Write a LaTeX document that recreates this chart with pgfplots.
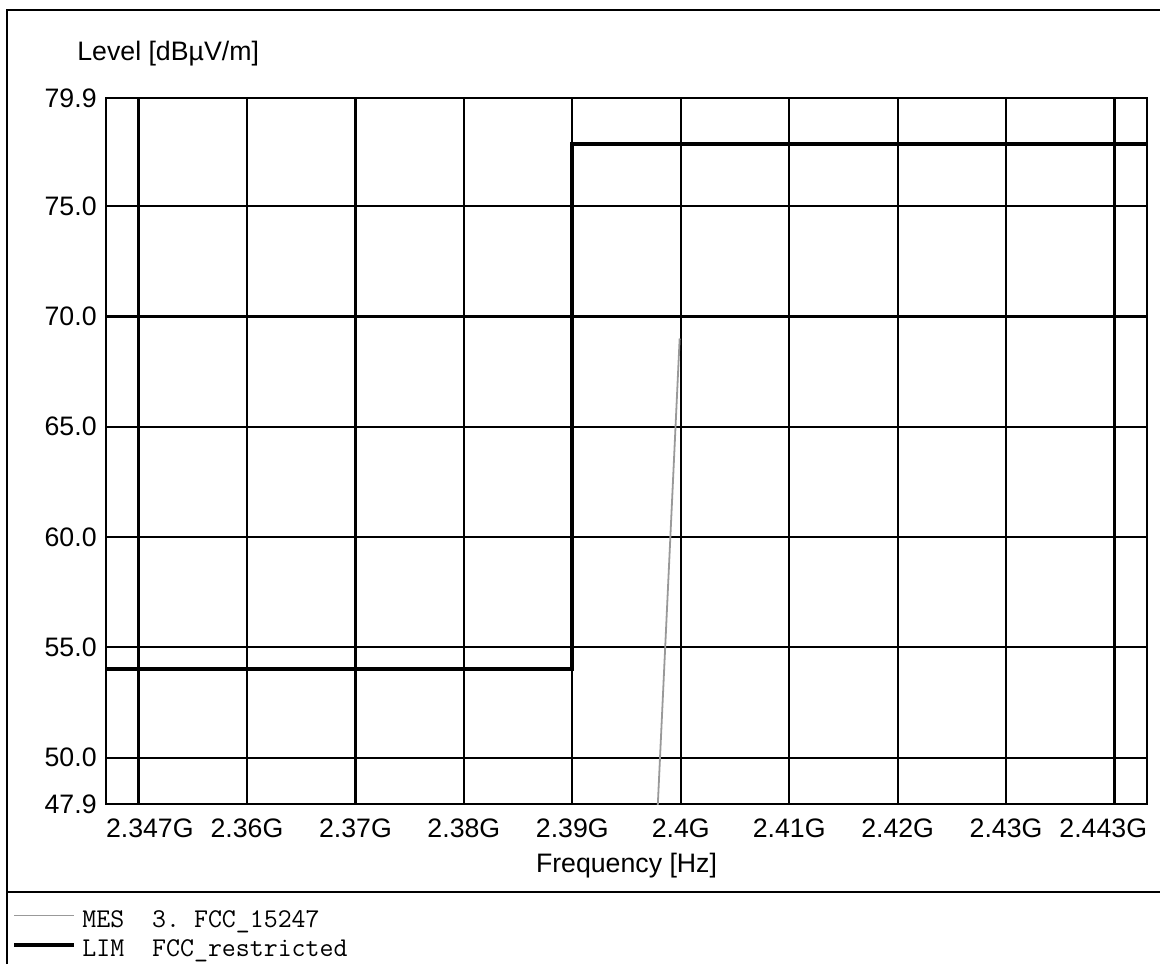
\documentclass[border=0pt]{standalone}
\usepackage{fontspec}
\setmainfont{Liberation Sans}
\usepackage{pgfplots}
\pgfplotsset{compat=1.18}
\begin{document}
\fontsize{13.4}{16}\selectfont
\begin{tikzpicture}
\begin{scope}[x=0.5bp,y=-0.5bp]
\useasboundingbox (0,0) rectangle (1160,964);
\draw[line width=0.8bp] (7,964) -- (7,10) -- (1160,10);
\draw[line width=0.8bp] (7,892) -- (1160,892);
\end{scope}
\begin{axis}[
  at={(53bp,-49bp)}, anchor=north west,
  scale only axis, width=520.5bp, height=353bp,
  xmin=2.347, xmax=2.443, ymin=47.9, ymax=79.9,
  xtick={2.347,2.35,2.36,2.37,2.38,2.39,2.40,2.41,2.42,2.43,2.44,2.443},
  xticklabels={\rlap{2.347G},,2.36G,2.37G,2.38G,2.39G,2.4G,2.41G,2.42G,2.43G,,\llap{2.443G}},
  ytick={47.9,50,55,60,65,70,75,79.9},
  yticklabels={47.9,50.0,55.0,60.0,65.0,70.0,75.0,79.9},
  major tick length=0pt,
  tick label style={font=\fontsize{13.4}{16}\selectfont, inner sep=0pt},
  xticklabel style={anchor=base, yshift=-16.5bp},
  yticklabel style={anchor=east, xshift=-4.5bp},
  grid=major,
  major grid style={black, line width=1.1bp},
  axis line style={black, line width=1bp},
  xlabel={Frequency [Hz]},
  xlabel style={at={(axis description cs:0.5,-0.0963)}, anchor=base, inner sep=0pt, font=\fontsize{13.4}{16}\selectfont},
  ylabel={Level [dBµV/m]},
  ylabel style={rotate=-90, at={(axis description cs:-0.0279,1.0538)}, anchor=base west, inner sep=0pt, font=\fontsize{13.4}{16}\selectfont},
  legend style={at={(axis description cs:-0.0903,-0.1487)}, anchor=north west, draw=none, fill=none, inner sep=0pt, row sep=0pt, column sep=3bp,
    font=\ttfamily\fontsize{13.6}{14.5}\selectfont,
    nodes={inner sep=0pt, text height=9bp, text depth=5.5bp}},
  legend cell align=left,
  legend image code/.code={\draw[#1] (0bp,4.2bp) -- (30bp,4.2bp);},
]
\addplot[black!40, line width=0.9bp] coordinates {(2.39785,47.5) (2.39990,69.0)};
\addlegendentry{MES~~3.~FCC\_15247}
\addplot[black, line width=2bp] coordinates {(2.347,54) (2.39,54) (2.39,77.8) (2.443,77.8)};
\addlegendentry{LIM~~FCC\_restricted}
\end{axis}
\end{tikzpicture}
\end{document}
